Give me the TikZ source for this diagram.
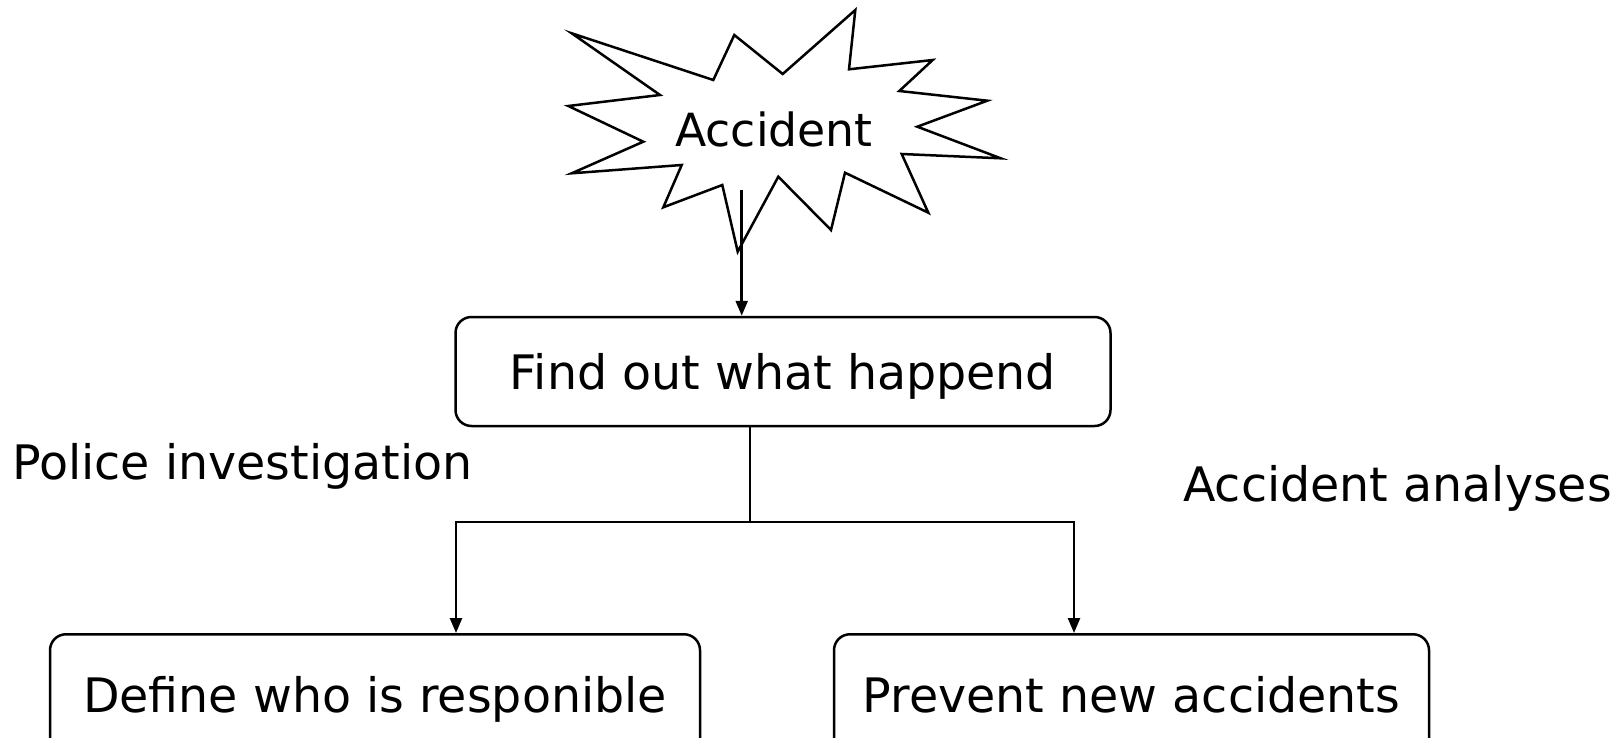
\documentclass[tikz,border=0pt]{standalone}
\usepackage{fontspec}
\setmainfont{DejaVu Sans}
\usetikzlibrary{arrows.meta}

\begin{document}
\begin{tikzpicture}[x=1pt, y=-1pt, line width=2.5pt,
    >={Triangle[length=15pt,width=12pt]},
    box/.style={draw, rectangle, rounded corners=16pt, inner sep=0pt,
        text height=35pt, text depth=0pt, font=\fontsize{47.5pt}{57pt}\selectfont},
    lowbox/.style={box, anchor=north, minimum height=122pt},
    sidetext/.style={inner sep=0pt, anchor=base west, font=\fontsize{47.5pt}{57pt}\selectfont}]
    \useasboundingbox (0,0) rectangle (1621,738);
    \clip (0,0) rectangle (1621,738);

    % Accident burst
    \draw[fill=white] (571.7,33.3) -- (713.3,80) -- (734.3,35) -- (782.7,74)
        -- (855.3,10) -- (849,69.3) -- (932.7,60) -- (899.3,91) -- (987.3,100.7)
        -- (917.3,126.7) -- (1000.7,158.3) -- (901.7,154) -- (928.3,212.7)
        -- (845,172.7) -- (831,230) -- (778.3,176.7) -- (737.7,251.7)
        -- (722.3,185) -- (663.3,207.3) -- (681.7,165) -- (571.7,173.3)
        -- (643.3,141.7) -- (568.3,106) -- (660,95) -- cycle;
    \node[inner sep=0pt, anchor=base, font=\fontsize{45.7pt}{55pt}\selectfont] (accident) at (774,146.7) {Accident};
    \coordinate (tail) at (741.7,190);

    % Boxes
    \node[box, minimum width=655pt, minimum height=109pt] (find) at (783,371.5) {Find out what happend};
    \node[lowbox, minimum width=650pt] (define) at (375,633) {Define who is responible};
    \node[lowbox, minimum width=595pt] (prevent) at (1131.5,633) {Prevent new accidents};

    % Side texts
    \node[sidetext] (police) at (11,479) {Police investigation};
    \node[sidetext] (analyses) at (1182,501) {Accident analyses};

    % Connections
    \coordinate (split) at (750,522);
    \coordinate (lfork) at (456,522);
    \coordinate (rfork) at (1074,522);
    \draw[->] (tail) -- (tail |- find.north);
    \draw (find.south -| split) -- (split);
    \draw[<->] (lfork |- define.north) -- (lfork) -- (rfork) -- (rfork |- prevent.north);
\end{tikzpicture}
\end{document}
